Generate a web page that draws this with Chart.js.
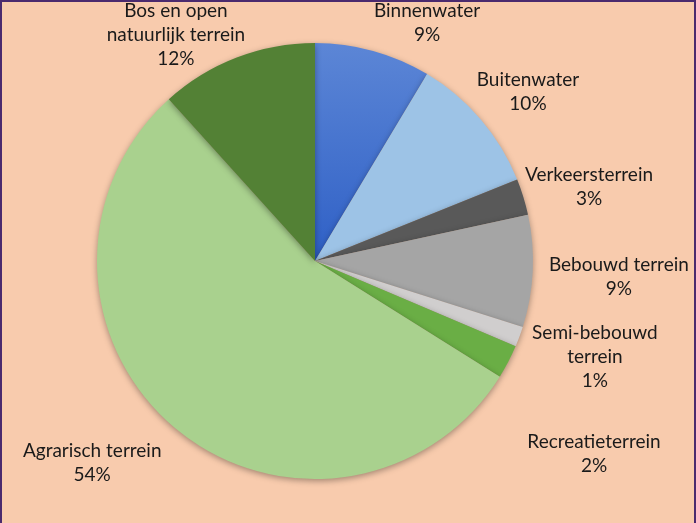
<!DOCTYPE html>
<html>
<head>
<meta charset="utf-8">
<script src="https://cdn.jsdelivr.net/npm/chart.js@4"></script>
<style>
  html, body { margin: 0; padding: 0; background: #f8cbad; }
  .wrap { position: relative; width: 696px; height: 523px; background: #f8cbad; }
  .wrap:after { content: ''; position: absolute; left: 0; top: 0; right: 0; bottom: -4px;
    border: 2px solid #4b2a6e; pointer-events: none; }
</style>
</head>
<body>
<div class="wrap"><canvas id="myChart"></canvas></div>
<script>
const categories = ['Binnenwater', 'Buitenwater', 'Verkeersterrein', 'Bebouwd terrein',
  'Semi-bebouwd terrein', 'Recreatieterrein', 'Agrarisch terrein', 'Bos en open natuurlijk terrein'];
const shares = [8.6, 10.3, 2.7, 8.3, 1.5, 2.5, 54.4, 11.7];
const percentLabels = ['9%', '10%', '3%', '9%', '1%', '2%', '54%', '12%'];
// how each label wraps, like in the original
const labelLines = [
  ['Binnenwater'], ['Buitenwater'], ['Verkeersterrein'], ['Bebouwd terrein'],
  ['Semi-bebouwd', 'terrein'], ['Recreatieterrein'], ['Agrarisch terrein'],
  ['Bos en open', 'natuurlijk terrein']
];
const colors = ['#4472c4', '#9dc3e6', '#595959', '#a5a5a5', '#d0cece', '#6aae45', '#a9d18e', '#538135'];

// label spots, in units of the pie radius from the centre
const labelSpots = [
  [0.514, -1.092], [0.977, -0.775], [1.257, -0.339], [1.394, 0.073],
  [1.284, 0.44], [1.28, 0.885], [-1.022, 0.927], [-0.638, -1.037]
];

const shadowPlugin = {
  id: 'shadow',
  beforeDatasetsDraw(chart) {
    const c = chart.ctx;
    c.save();
    c.shadowColor = 'rgba(0,0,0,0.35)';
    c.shadowBlur = 6;
    c.shadowOffsetY = 2;
  },
  afterDatasetsDraw(chart) {
    chart.ctx.restore();
  }
};

const labelPlugin = {
  id: 'outerLabels',
  afterDraw(chart) {
    const arc = chart.getDatasetMeta(0).data[0];
    const r = arc.outerRadius;
    const c = chart.ctx;
    c.save();
    c.font = '19px Lato';
    c.fillStyle = '#1a1a1a';
    c.textAlign = 'center';
    c.textBaseline = 'middle';
    const lh = 23.8;
    labelLines.forEach((lines, i) => {
      const all = lines.concat([percentLabels[i]]);
      const cx = arc.x + labelSpots[i][0] * r;
      const cy = arc.y + labelSpots[i][1] * r;
      all.forEach((t, k) => {
        c.fillText(t, cx, cy + (k - (all.length - 1) / 2) * lh);
      });
    });
    c.restore();
  }
};

let ctx = document.getElementById('myChart').getContext('2d');
ctx.canvas.parentNode.style.width = '696px';
ctx.canvas.parentNode.style.height = '523px';
new Chart(ctx, {
  type: 'pie',
  data: {
    labels: categories,
    datasets: [{
      data: shares,
      backgroundColor: function (context) {
        const i = context.dataIndex;
        const area = context.chart.chartArea;
        if (i === 0 && area) {
          const g = context.chart.ctx.createLinearGradient(0, area.top, 0, area.top + area.height / 2);
          g.addColorStop(0, '#5c86d6');
          g.addColorStop(1, '#2f60c6');
          return g;
        }
        return colors[i];
      },
      borderWidth: 0
    }]
  },
  options: {
    responsive: true,
    maintainAspectRatio: false,
    animation: false,
    layout: { padding: { left: 97, right: 163, top: 43, bottom: 44 } },
    plugins: {
      legend: { display: false },
      tooltip: { enabled: false }
    }
  },
  plugins: [shadowPlugin, labelPlugin]
});
</script>
</body>
</html>
